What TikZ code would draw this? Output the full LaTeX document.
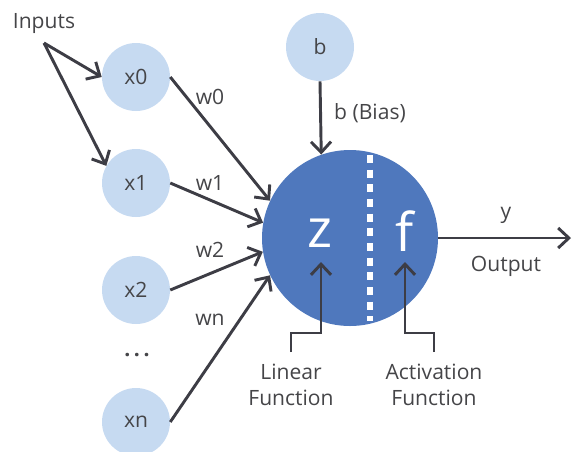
\documentclass[tikz,border=0pt]{standalone}
\usepackage{fontspec}
\setmainfont{Open Sans}
\usetikzlibrary{arrows.meta}
\definecolor{inputblue}{HTML}{C6DAF1}
\definecolor{neuronblue}{HTML}{4F78BD}
\definecolor{linegray}{HTML}{3D3D45}
\definecolor{textgray}{HTML}{454548}
\tikzset{%
  >={Straight Barb[length=8pt,width=15pt]},
  % Specifications for style of nodes:
        inputnode/.style = {circle, fill=inputblue, minimum size=51pt,
                            inner sep=0pt},
       neuronbody/.style = {circle, fill=neuronblue, minimum size=132pt,
                            inner sep=0pt},
        bigletter/.style = {text=white, inner sep=0pt,
                            font=\fontsize{40}{40}\selectfont},
          caption/.style = {align=center, anchor=base, inner sep=0pt},
        connector/.style = {draw=linegray, line width=2.2pt},
}

\begin{document}
\begin{tikzpicture}[x=0.75pt, y=-0.75pt,
    every node/.style={text=textgray, font=\fontsize{15.8}{19.5}\selectfont}]
  \useasboundingbox (0,0) rectangle (574,451);
  % Specification of nodes (position, etc.)
  \node (x0)       [inputnode]  at (136,77)  {x0};
  \node (x1)       [inputnode]  at (136,183) {x1};
  \node (x2)       [inputnode]  at (136,290) {x2};
  \node (xn)       [inputnode]  at (136,422) {xn};
  \node (dots)                  at (137,355) {\textbf{.\,.\,.}};
  \node (b)        [inputnode]  at (320,47)  {b};
  \node (neuron)   [neuronbody] at (350,238) {};
  \node (z)        [bigletter]  at (320,233) {z};
  \node (f)        [bigletter]  at (405,231) {f};

  \node (inputs)                at (44,24)   {Inputs};
  \node (w0)                    at (210,97)  {w0};
  \node (w1)                    at (210,183) {w1};
  \node (w2)                    at (210,250) {w2};
  \node (wn)                    at (210,320) {wn};
  \node (bias)                  at (370,113) {b (Bias)};
  \node (y)                     at (506,215) {y};
  \node (output)                at (506,266) {Output};
  \node (linear)   [caption]    at (291,405) {Linear\\Function};
  \node (activ)    [caption]    at (434,405) {Activation\\Function};

  \coordinate (fork)    at (44,43);
  \coordinate (dashtop) at (370,155);
  \coordinate (dashbot) at (370,321);
  \coordinate (out)     at (571,238);
  \coordinate (linfoot) at (291,352);
  \coordinate (actfoot) at (434,352);
  \coordinate (ztip)    at (321,262);
  \coordinate (ftip)    at (405,262);

  % split between the two halves of the neuron
  \draw[white, line width=3.8pt, dash pattern=on 6pt off 5pt] (dashtop) -- (dashbot);

  \draw[connector, ->]  (fork) -- (x0.west);
  \draw[connector, ->]  (fork) -- (x1.150);
  \draw[connector, ->]  (x0.east) -- (neuron.155);
  \draw[connector, ->]  (x1.east) -- (neuron.170);
  \draw[connector, ->]  (x2.east) -- (neuron.189);
  \draw[connector, ->]  (xn.east) -- (neuron.205);
  \draw[connector, ->]  (b.south) -- (neuron.109);
  \draw[connector, ->]  (neuron.east) -- (out);
  \draw[connector, ->]  (linfoot) -- ++(0,-19) -| (ztip);
  \draw[connector, ->]  (actfoot) -- ++(0,-19) -| (ftip);

\end{tikzpicture}
\end{document}
